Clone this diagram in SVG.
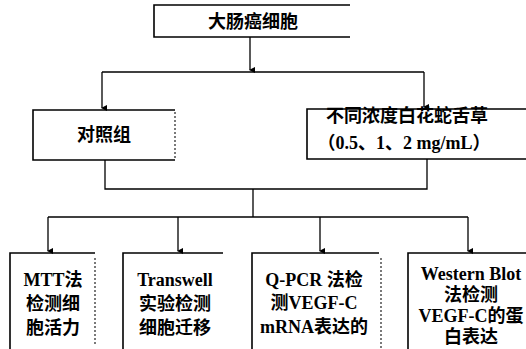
<svg xmlns="http://www.w3.org/2000/svg" width="526" height="349" viewBox="0 0 526 349">
<defs>
<marker id="ah" markerWidth="8" markerHeight="8" refX="4" refY="6" orient="auto" markerUnits="userSpaceOnUse">
<path d="M1,1 L7,1 L4,7 Z" fill="#000"/>
</marker>
</defs>
<style>
.box{fill:none;stroke:#000;stroke-width:1.6}
.dot{fill:none;stroke:#222;stroke-width:1.2;stroke-dasharray:2 2}
.ln{fill:none;stroke:#000;stroke-width:1.3}
.t{font-family:"Liberation Serif","Noto Sans CJK SC",serif;font-weight:bold;font-size:18px;fill:#000;text-anchor:middle}
</style>
<rect width="526" height="349" fill="#fff"/>
<g id="n-top">
<path class="box" d="M350,5 H154 V37 H350"/>
<text class="t" x="253" y="28">大肠癌细胞</text>
</g>
<g id="n-control">
<path class="box" d="M175,110 H33 V160 H175"/>
<path class="dot" d="M175,112 V158"/>
<text class="t" x="104" y="141">对照组</text>
</g>
<g id="n-dose">
<path class="box" d="M526,109 H307 V159 H526"/>
<text class="t" x="407" y="122">不同浓度白花蛇舌草</text>
<text class="t" x="404" y="149">（0.5、1、2 mg/mL）</text>
</g>
<g id="n-mtt">
<path class="box" d="M95,253 H10 V349"/>
<path class="dot" d="M95,258 V345"/>
<text class="t" x="53" y="286">MTT法</text>
<text class="t" x="53" y="310">检测细</text>
<text class="t" x="53" y="334">胞活力</text>
</g>
<g id="n-transwell">
<path class="box" d="M223,253 H123 V349"/>
<text class="t" x="175" y="286">Transwell</text>
<text class="t" x="175" y="310">实验检测</text>
<text class="t" x="175" y="334">细胞迁移</text>
</g>
<g id="n-qpcr">
<path class="box" d="M379,253 H252 V349"/>
<path class="dot" d="M381,258 V349"/>
<text class="t" x="314" y="286">Q-PCR 法检</text>
<text class="t" x="314" y="309">测VEGF-C</text>
<text class="t" x="314" y="333">mRNA表达的</text>
</g>
<g id="n-western">
<path class="box" d="M526,253 H408 V349"/>
<text class="t" x="471" y="280">Western Blot</text>
<text class="t" x="471" y="301">法检测</text>
<text class="t" x="471" y="322">VEGF-C的蛋</text>
<text class="t" x="471" y="343">白表达</text>
</g>
<g id="connectors">
<path class="ln" d="M250,37 V70" marker-end="url(#ah)"/>
<path class="ln" d="M102,72 H424"/>
<path class="ln" d="M102,72 V108" marker-end="url(#ah)"/>
<path class="ln" d="M424,72 V107" marker-end="url(#ah)"/>
<path class="ln" d="M105,160 V189 H427 V159"/>
<path class="ln" d="M253,189 V217"/>
<path class="ln" d="M48,217 H468"/>
<path class="ln" d="M48,217 V251" marker-end="url(#ah)"/>
<path class="ln" d="M178,217 V251" marker-end="url(#ah)"/>
<path class="ln" d="M320,217 V251" marker-end="url(#ah)"/>
<path class="ln" d="M468,217 V251" marker-end="url(#ah)"/>
</g>
</svg>
